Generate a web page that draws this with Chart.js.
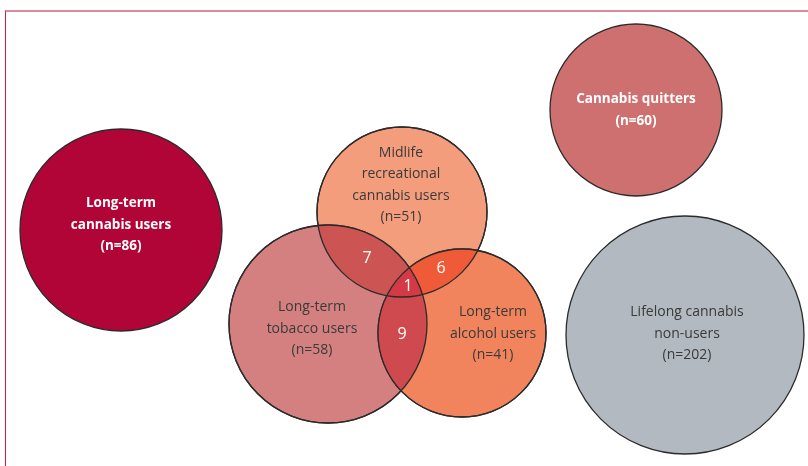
<!DOCTYPE html>
<html>
<head>
<meta charset="utf-8">
<script src="https://cdn.jsdelivr.net/npm/chart.js@4.4.1/dist/chart.umd.min.js"></script>
<style>
  html, body { margin: 0; padding: 0; background: #fff; }
  #wrap { position: relative; width: 808px; height: 466px; }
  #frame { position: absolute; left: 5px; top: 10px; right: 0; bottom: 0;
           border-top: 2px solid #db8aa0; border-left: 1.5px solid #c41e4c; pointer-events: none; }
</style>
</head>
<body>
<div id="wrap">
  <canvas id="venn" width="808" height="466"></canvas>
  <div id="frame"></div>
</div>
<script>
// groups (one circle each)
const groupNames = [
  ['Long-term', 'cannabis users'],
  ['Cannabis quitters'],
  ['Lifelong cannabis', 'non-users'],
  ['Midlife', 'recreational', 'cannabis users'],
  ['Long-term', 'tobacco users'],
  ['Long-term', 'alcohol users']
];
const groupN = [86, 60, 202, 51, 58, 41];
// circle centre and radius
const groupX = [121, 636, 685, 402, 328, 462];
const groupY = [230, 110, 335, 212, 324, 333];
const groupR = [101, 86, 119, 85, 99, 84];

// overlaps between midlife (3), tobacco (4) and alcohol (5)
const overlapSets = [[3, 4], [3, 5], [4, 5], [3, 4, 5]];
const overlapCounts = [7, 6, 9, 1];

const fills = ['#b10538', '#cf7070', '#b2b9c0', '#f49d7d', '#d48080', '#f2845d'];
const overlapFills = ['#cc5452', '#ef5a39', '#cf4a4f', '#d43a46'];
const boldWhite = [true, true, false, false, false, false];

// where the words sit, in the same units as the circles
const labelAnchorX = [121, 636, 687, 401, 312, 493];
const labelAnchorY = [225, 110, 334, 185, 329, 334];
const overlapAnchorX = [367, 441, 402, 408];
const overlapAnchorY = [258, 268, 334, 286];

const points = groupX.map((x, i) => ({ x: x, y: groupY[i], r: groupR[i] }));

const vennPlugin = {
  id: 'venn',
  afterDatasetsDraw(chart) {
    const ctx = chart.ctx;
    const els = chart.getDatasetMeta(0).data;
    const sx = chart.scales.x, sy = chart.scales.y;

    // overlap fills, clipped to each circle in the set
    overlapSets.forEach((set, k) => {
      ctx.save();
      set.slice(1).forEach(i => {
        ctx.beginPath();
        ctx.arc(els[i].x, els[i].y, els[i].options.radius, 0, Math.PI * 2);
        ctx.clip();
      });
      const a = els[set[0]];
      ctx.beginPath();
      ctx.arc(a.x, a.y, a.options.radius, 0, Math.PI * 2);
      ctx.fillStyle = overlapFills[k];
      ctx.fill();
      ctx.restore();
    });
    // outlines back on top
    [3, 4, 5].forEach(i => {
      ctx.beginPath();
      ctx.arc(els[i].x, els[i].y, els[i].options.radius, 0, Math.PI * 2);
      ctx.lineWidth = 1.3;
      ctx.strokeStyle = '#2b2b2b';
      ctx.stroke();
    });

    ctx.textAlign = 'center';
    ctx.textBaseline = 'middle';
    groupNames.forEach((lines, i) => {
      const all = lines.concat(['(n=' + groupN[i] + ')']);
      const cx = sx.getPixelForValue(labelAnchorX[i]);
      const cy = sy.getPixelForValue(labelAnchorY[i]);
      const lh = 21.5;
      ctx.font = boldWhite[i] ? 'bold 13.5px "Open Sans"' : '14px "Open Sans"';
      ctx.fillStyle = boldWhite[i] ? '#ffffff' : '#3a3a3a';
      all.forEach((t, j) => {
        ctx.fillText(t, cx, cy + (j - (all.length - 1) / 2) * lh);
      });
    });
    ctx.font = '16px "Open Sans"';
    ctx.fillStyle = '#ffffff';
    overlapCounts.forEach((n, k) => {
      ctx.fillText(String(n), sx.getPixelForValue(overlapAnchorX[k]), sy.getPixelForValue(overlapAnchorY[k]));
    });
  }
};

new Chart(document.getElementById('venn'), {
  type: 'bubble',
  data: {
    datasets: [{
      data: points,
      backgroundColor: fills,
      borderColor: '#2b2b2b',
      borderWidth: 1.3
    }]
  },
  options: {
    responsive: false,
    animation: false,
    devicePixelRatio: 1,
    events: [],
    clip: false,
    layout: { padding: 0, autoPadding: false },
    plugins: { legend: { display: false }, tooltip: { enabled: false } },
    scales: {
      x: { type: 'linear', min: 0, max: 808, display: false },
      y: { type: 'linear', min: 0, max: 466, reverse: true, display: false }
    }
  },
  plugins: [vennPlugin]
});
</script>
</body>
</html>
